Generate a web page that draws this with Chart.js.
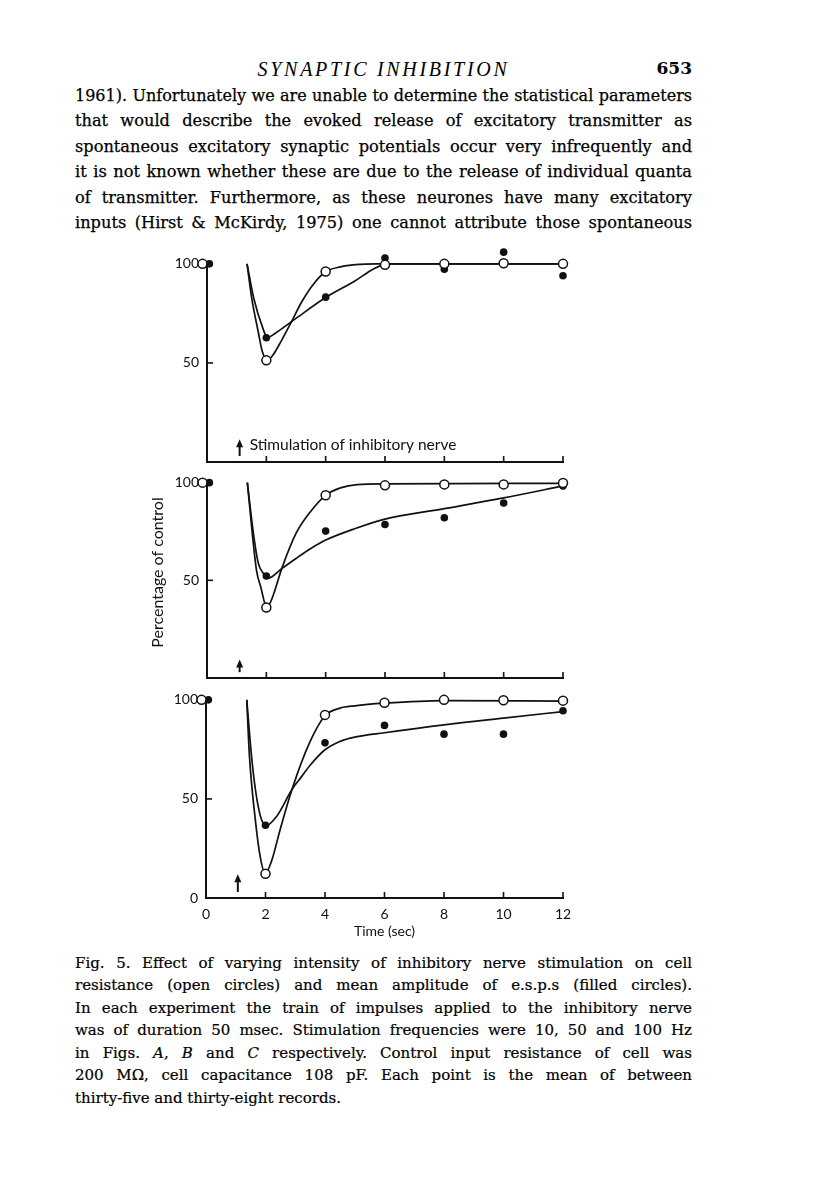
<!DOCTYPE html>
<html>
<head>
<meta charset="utf-8">
<script src="https://cdn.jsdelivr.net/npm/chart.js@4.4.1/dist/chart.umd.min.js"></script>
<style>
  body { margin: 0; background: #fff; width: 816px; height: 1193px; position: relative; overflow: hidden; color: #000; font-family: 'DejaVu Serif', serif; }
  .ln { position: absolute; left: 75px; width: 617px; height: 20px; line-height: 20px; font-size: 16.2px; text-align: justify; text-align-last: justify; -webkit-text-stroke: 0.25px #000; }
  .cap { position: absolute; left: 75px; width: 617px; height: 18px; line-height: 18px; font-size: 15px; text-align: justify; text-align-last: justify; -webkit-text-stroke: 0.2px #000; }
  .cap.last { text-align-last: left; }
  .head { position: absolute; top: 58px; left: 75px; width: 617px; height: 24px; line-height: 24px; text-align: center; font: italic 20px 'Liberation Serif', serif; letter-spacing: 2.7px; }
  .folio { position: absolute; top: 58px; left: 592px; width: 100px; height: 24px; line-height: 24px; text-align: right; font: bold 17px 'DejaVu Serif', serif; }
  canvas { position: absolute; left: 140px; }
</style>
</head>
<body>
<div class="head">SYNAPTIC INHIBITION</div>
<div class="folio">653</div>

<div class="ln" style="top:86px">1961). Unfortunately we are unable to determine the statistical parameters</div>
<div class="ln" style="top:111px">that would describe the evoked release of excitatory transmitter as</div>
<div class="ln" style="top:137px">spontaneous excitatory synaptic potentials occur very infrequently and</div>
<div class="ln" style="top:162px">it is not known whether these are due to the release of individual quanta</div>
<div class="ln" style="top:188px">of transmitter. Furthermore, as these neurones have many excitatory</div>
<div class="ln" style="top:213px">inputs (Hirst &amp; McKirdy, 1975) one cannot attribute those spontaneous</div>

<canvas id="panelA" width="440" height="252" style="top:230px"></canvas>
<canvas id="panelB" width="440" height="249" style="top:449px"></canvas>
<canvas id="panelC" width="440" height="277" style="top:666px"></canvas>

<div class="cap" style="top:954px">Fig. 5. Effect of varying intensity of inhibitory nerve stimulation on cell</div>
<div class="cap" style="top:976px">resistance (open circles) and mean amplitude of e.s.p.s (filled circles).</div>
<div class="cap" style="top:999px">In each experiment the train of impulses applied to the inhibitory nerve</div>
<div class="cap" style="top:1021px">was of duration 50 msec. Stimulation frequencies were 10, 50 and 100 Hz</div>
<div class="cap" style="top:1044px">in Figs. <i>A</i>, <i>B</i> and <i>C</i> respectively. Control input resistance of cell was</div>
<div class="cap" style="top:1066px">200 MΩ, cell capacitance 108 pF. Each point is the mean of between</div>
<div class="cap last" style="top:1089px">thirty-five and thirty-eight records.</div>

<script>
// keep every justified line on one line
document.querySelectorAll('.ln, .cap').forEach((el) => {
    let fs = parseFloat(getComputedStyle(el).fontSize);
    while (el.scrollHeight > el.clientHeight + 2 && fs > 10) {
        fs -= 0.2;
        el.style.fontSize = fs + 'px';
    }
});

// sample times (sec) and axis ticks
const timeSec = [0, 2, 4, 6, 8, 10, 12];
const xTicks = [2, 4, 6, 8, 10, 12];
const yTicksAB = [50, 100];
const yTicksC = [0, 50, 100];

// A: 10 Hz
const openA = [100, 51.3, 96.1, 99.5, 100, 100.3, 100];
const filledA = [100, 62.7, 83.2, 102.9, 97.3, 105.9, 94];
const fitOpenTA = [1.35, 1.51, 1.73, 1.86, 2.02, 2.2, 2.5, 2.82, 3.2, 3.6, 4.0, 4.5, 5.0, 5.7, 12];
const fitOpenA = [100, 82.4, 65.5, 56, 51.3, 53.5, 61, 70, 81, 90, 96, 98.5, 99.6, 100, 100];
const fitFilledTA = [1.35, 1.58, 1.9, 2.03, 2.3, 3.0, 4.0, 5.0, 5.6, 6.1, 12];
const fitFilledA = [100, 82.4, 66.8, 62.7, 65, 72.5, 83, 91.5, 97.3, 100, 100];

// B: 50 Hz
const openB = [100, 36.1, 93.5, 98.6, 99.1, 99.1, 99.8];
const filledB = [100, 52.2, 75.2, 78.6, 82.0, 89.6, 98.3];
const fitOpenTB = [1.36, 1.54, 1.67, 1.81, 2.02, 2.2, 2.52, 3.0, 3.48, 4.0, 4.5, 5.06, 6.0, 12];
const fitOpenB = [100, 72, 55, 46.7, 36, 41, 56, 74, 85, 93.5, 97.3, 99, 99.4, 99.6];
const fitFilledTB = [1.36, 1.58, 1.73, 1.9, 2.05, 2.53, 3.0, 3.5, 4.0, 5.0, 6.0, 8.0, 10.0, 12];
const fitFilledB = [100, 72.2, 58.7, 53.5, 51, 56.1, 61.2, 66.3, 70.6, 76.5, 81.3, 86.7, 92.2, 98.3];

// C: 100 Hz
const openC = [100, 12.2, 92.4, 98.5, 100, 99.8, 99.6];
const filledC = [100, 36.7, 78.3, 87.1, 82.7, 82.7, 94.5];
const fitOpenTC = [1.37, 1.46, 1.67, 1.82, 1.99, 2.2, 2.5, 2.89, 3.5, 4.0, 4.5, 5.0, 6.0, 8.0, 12];
const fitOpenC = [100, 71.7, 37.9, 21, 12.3, 18.5, 35, 54.8, 79, 92, 95.8, 97, 98.3, 99.6, 99.4];
const fitFilledTC = [1.37, 1.53, 1.66, 1.83, 2.02, 2.38, 2.89, 3.2, 3.5, 4.0, 4.5, 5.0, 6.0, 8.0, 10.0, 12];
const fitFilledC = [100, 71.7, 54.8, 41.3, 36.5, 41.3, 54.8, 61, 67, 74.8, 79, 81.2, 83.4, 87.4, 90.8, 94.1];

// stimulus arrows: time, tail and head (percentage units)
const arrowT = [1.1, 1.1, 1.07];
const arrowTail = [3, 3, 3];
const arrowHead = [11.5, 9.5, 12];

const INK = '#111';
const SANS = 'Lato, "Open Sans", sans-serif';

function pts(xs, ys, shift) {
    return xs.map((x, i) => ({ x: x === 0 ? x + shift : x, y: ys[i] }));
}

const figureMarks = {
    id: 'figureMarks',
    afterDraw(chart, args, o) {
        const { ctx, scales: { x, y } } = chart;
        ctx.save();
        ctx.strokeStyle = INK;
        ctx.fillStyle = INK;
        // y axis line, only up to 100 %
        ctx.lineWidth = 2;
        ctx.beginPath();
        ctx.moveTo(x.left, y.getPixelForValue(0));
        ctx.lineTo(x.left, y.getPixelForValue(100));
        ctx.stroke();
        // inward tick marks
        ctx.lineWidth = 1.6;
        xTicks.forEach((v) => {
            const px = x.getPixelForValue(v);
            ctx.beginPath();
            ctx.moveTo(px, y.bottom);
            ctx.lineTo(px, y.bottom - 6);
            ctx.stroke();
        });
        ctx.beginPath();
        ctx.moveTo(x.left, y.getPixelForValue(50));
        ctx.lineTo(x.left + 6, y.getPixelForValue(50));
        ctx.stroke();
        // stimulus arrow
        const ax = x.getPixelForValue(o.t);
        const yTail = y.getPixelForValue(o.tail);
        const yHead = y.getPixelForValue(o.head);
        ctx.lineWidth = 2;
        ctx.beginPath();
        ctx.moveTo(ax, yTail);
        ctx.lineTo(ax, yHead + 6);
        ctx.stroke();
        ctx.beginPath();
        ctx.moveTo(ax, yHead);
        ctx.lineTo(ax - 3.5, yHead + 8);
        ctx.lineTo(ax + 3.5, yHead + 8);
        ctx.closePath();
        ctx.fill();
        if (o.label) {
            ctx.font = '15.5px ' + SANS;
            ctx.textBaseline = 'middle';
            ctx.fillText(o.label, ax + 10, (yTail + yHead) / 2 - 3);
        }
        ctx.restore();
    },
};

function buildPanel(id, p) {
    new Chart(document.getElementById(id), {
        type: 'scatter',
        data: {
            datasets: [
                {
                    data: pts(timeSec, p.open, -0.15),
                    pointRadius: 4.5,
                    pointBackgroundColor: '#fff',
                    pointBorderColor: INK,
                    pointBorderWidth: 1.5,
                    showLine: false,
                    clip: false,
                },
                {
                    data: pts(timeSec, p.filled, 0.08),
                    pointRadius: 3.8,
                    pointBackgroundColor: INK,
                    pointBorderColor: INK,
                    pointBorderWidth: 0,
                    showLine: false,
                    clip: false,
                },
                {
                    data: pts(p.fitOpenT, p.fitOpen, 0),
                    showLine: true,
                    pointRadius: 0,
                    borderColor: INK,
                    borderWidth: 1.7,
                    cubicInterpolationMode: 'monotone',
                    clip: false,
                },
                {
                    data: pts(p.fitFilledT, p.fitFilled, 0),
                    showLine: true,
                    pointRadius: 0,
                    borderColor: INK,
                    borderWidth: 1.7,
                    cubicInterpolationMode: 'monotone',
                    clip: false,
                },
            ],
        },
        options: {
            responsive: false,
            animation: false,
            devicePixelRatio: 1,
            layout: { padding: { top: 18, right: 17, left: 0, bottom: 0 } },
            plugins: {
                legend: { display: false },
                tooltip: { enabled: false },
                figureMarks: p.arrow,
            },
            scales: {
                x: {
                    type: 'linear',
                    min: 0,
                    max: 12,
                    grid: { display: false, drawTicks: false },
                    border: { display: true, color: INK, width: 2 },
                    ticks: {
                        display: p.showX,
                        stepSize: 2,
                        color: INK,
                        padding: 8,
                        maxRotation: 0,
                        autoSkip: false,
                        font: { family: SANS, size: 14 },
                    },
                    title: {
                        display: p.showX,
                        text: 'Time (sec)',
                        color: INK,
                        padding: { top: 0, bottom: 3 },
                        font: { family: SANS, size: 14 },
                    },
                    afterFit: (s) => { s.height = p.xAxisH; },
                },
                y: {
                    min: 0,
                    max: 108,
                    afterBuildTicks: (s) => { s.ticks = p.yTicks.map((v) => ({ value: v })); },
                    grid: { display: false, drawTicks: false },
                    border: { display: false },
                    ticks: {
                        color: INK,
                        padding: 8,
                        font: { family: SANS, size: 14 },
                        callback: (v) => String(v),
                    },
                    title: {
                        display: !!p.yTitle,
                        text: p.yTitle || '',
                        color: INK,
                        padding: { top: 8, bottom: 0 },
                        font: { family: SANS, size: 16 },
                    },
                    afterFit: (s) => { s.width = p.yAxisW; },
                },
            },
        },
        plugins: [figureMarks],
    });
}

buildPanel('panelA', {
    open: openA, filled: filledA,
    fitOpenT: fitOpenTA, fitOpen: fitOpenA,
    fitFilledT: fitFilledTA, fitFilled: fitFilledA,
    yTicks: yTicksAB, showX: false, xAxisH: 20, yAxisW: 67,
    arrow: { t: arrowT[0], tail: arrowTail[0], head: arrowHead[0], label: 'Stimulation of inhibitory nerve' },
});
buildPanel('panelB', {
    open: openB, filled: filledB,
    fitOpenT: fitOpenTB, fitOpen: fitOpenB,
    fitFilledT: fitFilledTB, fitFilled: fitFilledB,
    yTicks: yTicksAB, showX: false, xAxisH: 20, yAxisW: 67,
    yTitle: 'Percentage of control',
    arrow: { t: arrowT[1], tail: arrowTail[1], head: arrowHead[1] },
});
buildPanel('panelC', {
    open: openC, filled: filledC,
    fitOpenT: fitOpenTC, fitOpen: fitOpenC,
    fitFilledT: fitFilledTC, fitFilled: fitFilledC,
    yTicks: yTicksC, showX: true, xAxisH: 45, yAxisW: 66,
    arrow: { t: arrowT[2], tail: arrowTail[2], head: arrowHead[2] },
});
</script>
</body>
</html>
